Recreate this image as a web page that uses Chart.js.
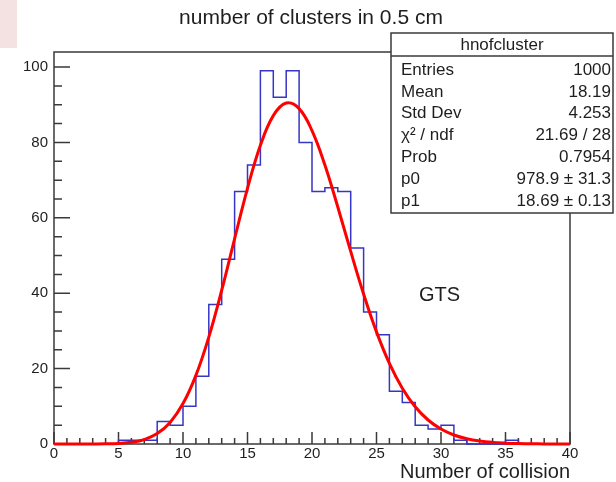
<!DOCTYPE html>
<html>
<head>
<meta charset="utf-8">
<script src="https://cdn.jsdelivr.net/npm/chart.js@4.4.1/dist/chart.umd.min.js"></script>
<style>
  html, body { margin: 0; background: #fff; }
  #wrap { width: 616px; height: 482px; position: relative; }
</style>
</head>
<body>
<div id="wrap"><canvas id="chart"></canvas></div>
<script>
// histogram hnofcluster: 40 bins of width 1 from 0 to 40
const binEdges = [0, 1, 2, 3, 4, 5, 6, 7, 8, 9, 10, 11, 12, 13, 14, 15, 16, 17, 18, 19, 20,
  21, 22, 23, 24, 25, 26, 27, 28, 29, 30, 31, 32, 33, 34, 35, 36, 37, 38, 39, 40];
const counts = [0, 0, 0, 0, 0, 1, 1, 1, 6, 5, 10, 18, 37, 49, 67, 74, 99, 92, 99, 80,
  67, 68, 67, 52, 35, 29, 14, 11, 5, 4, 5, 1, 0, 0, 0, 1, 0, 0, 0, 0];

// red fit curve, read at integer x
const fitX = binEdges;
const fitY = [0, 0, 0, 0.01, 0.04, 0.14, 0.44, 1.18, 2.76, 5.73, 10.72, 18.21, 28.37, 40.79,
  54.45, 67.84, 79.24, 87.12, 90.46, 88.98, 83.15, 74.0, 62.87, 51.09, 39.79, 29.75, 21.38,
  14.8, 9.88, 6.37, 3.97, 2.39, 1.4, 0.79, 0.43, 0.23, 0.12, 0.06, 0.03, 0.01, 0.01];

const xTicks = [0, 5, 10, 15, 20, 25, 30, 35, 40];
const yTicks = [0, 20, 40, 60, 80, 100];

const chartTitle = "number of clusters in 0.5 cm";
const statsTitle = "hnofcluster";
const statLabels = ["Entries", "Mean", "Std Dev", "χ² / ndf", "Prob", "p0", "p1"];
const statValues = ["1000", "18.19", "4.253", "21.69 / 28", "0.7954", "978.9 ± 31.3", "18.69 ± 0.13"];
const noteText = "GTS";

const FONT = '"Liberation Sans", Arial, Helvetica, sans-serif';
const INK = "#1e1e1e";

// bin i spans [edge i, edge i+1]; last edge repeats the last count
const histPoints = binEdges.map((x, i) => ({ x, y: i < counts.length ? counts[i] : counts[counts.length - 1] }));
const fitPoints = fitX.map((x, i) => ({ x, y: fitY[i] }));

// ROOT style frame, inner tick marks, title, stats box
const rootDecor = {
  id: "rootDecor",
  beforeDraw(chart) {
    const ctx = chart.ctx;
    ctx.save();
    ctx.fillStyle = "#f4e1e1";
    ctx.fillRect(0, 0, 17, 48);
    ctx.fillStyle = INK;
    ctx.font = "21px " + FONT;
    ctx.textAlign = "center";
    ctx.textBaseline = "middle";
    ctx.fillText(chartTitle, 311, 18);
    ctx.restore();
  },
  beforeDatasetsDraw(chart) {
    const { ctx, chartArea: a, scales: { x, y } } = chart;
    ctx.save();
    ctx.strokeStyle = "#3a3a3a";
    ctx.lineWidth = 1.5;
    ctx.strokeRect(a.left, a.top, a.right - a.left, a.bottom - a.top);
    ctx.beginPath();
    for (let v = x.min; v <= x.max; v += 1) {
      const px = x.getPixelForValue(v);
      const len = v % 5 === 0 ? 12 : 6;
      ctx.moveTo(px, a.bottom);
      ctx.lineTo(px, a.bottom - len);
    }
    for (let v = 0; v <= 100; v += 5) {
      const py = y.getPixelForValue(v);
      const len = v % 20 === 0 ? 16 : 8;
      ctx.moveTo(a.left, py);
      ctx.lineTo(a.left + len, py);
    }
    ctx.stroke();
    ctx.restore();
  },
  afterDraw(chart) {
    const ctx = chart.ctx;
    ctx.save();
    // stats box
    const L = 391, T = 33, R = 613, B = 213;
    ctx.fillStyle = "#fff";
    ctx.fillRect(L, T, R - L, B - T);
    ctx.strokeStyle = "#3a3a3a";
    ctx.lineWidth = 1.5;
    ctx.strokeRect(L, T, R - L, B - T);
    ctx.beginPath();
    ctx.moveTo(L, 56);
    ctx.lineTo(R, 56);
    ctx.stroke();
    ctx.fillStyle = INK;
    ctx.font = "17px " + FONT;
    ctx.textBaseline = "middle";
    ctx.textAlign = "center";
    ctx.fillText(statsTitle, (L + R) / 2, 45);
    statLabels.forEach((lab, i) => {
      const ty = 70 + i * 21.9;
      ctx.textAlign = "left";
      ctx.fillText(lab, 401, ty);
      ctx.textAlign = "right";
      ctx.fillText(statValues[i], 611, ty);
    });
    // label inside the pad
    ctx.font = "20px " + FONT;
    ctx.textAlign = "left";
    ctx.fillText(noteText, 419, 295);
    ctx.restore();
  }
};

new Chart(document.getElementById("chart"), {
  type: "line",
  data: {
    datasets: [
      {
        label: "fit",
        data: fitPoints,
        borderColor: "#ff0000",
        borderWidth: 3,
        pointRadius: 0,
        tension: 0.4,
        fill: false,
        clip: false
      },
      {
        label: "hnofcluster",
        data: histPoints,
        stepped: "before",
        borderColor: "#3636c6",
        borderWidth: 1.5,
        pointRadius: 0,
        fill: false,
        clip: false
      }
    ]
  },
  options: {
    responsive: true,
    maintainAspectRatio: false,
    animation: false,
    events: [],
    layout: { padding: { top: 52, left: 0, right: 46, bottom: 0 } },
    plugins: {
      legend: { display: false },
      tooltip: { enabled: false },
      title: { display: false }
    },
    scales: {
      x: {
        type: "linear",
        min: 0,
        max: 40,
        afterFit: (s) => { s.height = 38; },
        afterBuildTicks: (s) => { s.ticks = xTicks.map(v => ({ value: v })); },
        grid: { display: false, drawTicks: false },
        border: { display: false },
        ticks: { color: INK, font: { family: FONT, size: 15 }, padding: 1, maxRotation: 0, autoSkip: false },
        title: {
          display: true,
          text: "Number of collision",
          align: "end",
          color: INK,
          font: { family: FONT, size: 20, lineHeight: 1 },
          padding: 0
        }
      },
      y: {
        type: "linear",
        min: 0,
        max: 104,
        afterFit: (s) => { s.width = 54; },
        afterBuildTicks: (s) => { s.ticks = yTicks.map(v => ({ value: v })); },
        grid: { display: false, drawTicks: false },
        border: { display: false },
        ticks: { color: INK, font: { family: FONT, size: 15 }, padding: 6, autoSkip: false }
      }
    }
  },
  plugins: [rootDecor]
});
</script>
</body>
</html>
